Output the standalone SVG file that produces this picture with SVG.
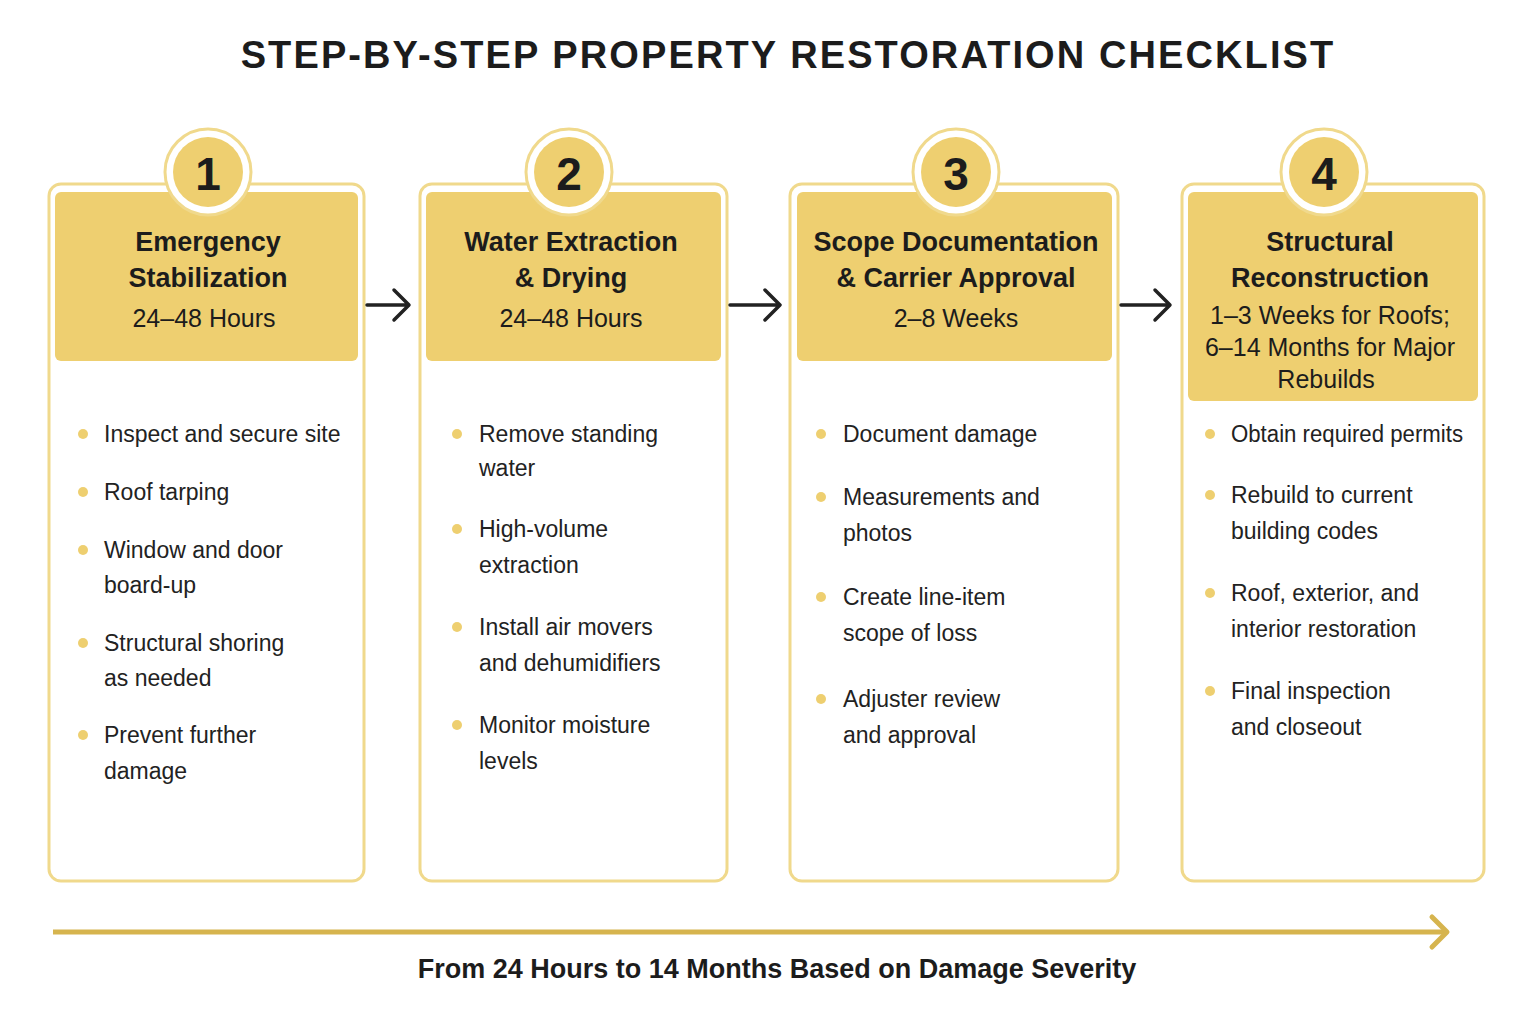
<svg xmlns="http://www.w3.org/2000/svg" width="1534" height="1024" viewBox="0 0 1534 1024">
<style>
.card{fill:#fff;stroke:#F0D98C;stroke-width:3}
.hdr{fill:#EECF70}
.ring{fill:#fff;stroke:#F0D98C;stroke-width:3}
.num{font:bold 46px "Liberation Sans",sans-serif;fill:#1c1c1c;text-anchor:middle}
.h{font:bold 27px "Liberation Sans",sans-serif;fill:#1c1c1c;text-anchor:middle}
.s{font:25px "Liberation Sans",sans-serif;fill:#1c1c1c;text-anchor:middle}
.b{font:23px "Liberation Sans",sans-serif;fill:#222}
.dot{fill:#EECF70}
.conn{stroke:#222;stroke-width:3.5;fill:none;stroke-linecap:round;stroke-linejoin:round}
</style>
<rect width="1534" height="1024" fill="#fff"/>
<text x="788" y="68" style="font:bold 38px 'Liberation Sans',sans-serif;fill:#1c1c1c;letter-spacing:2.1px" text-anchor="middle">STEP-BY-STEP PROPERTY RESTORATION CHECKLIST</text>

<g id="step1">
<rect class="card" x="49" y="184" width="315" height="697" rx="12"/>
<rect class="hdr" x="55" y="192" width="303" height="169" rx="6"/>
<circle class="ring" cx="208" cy="172" r="43"/><circle class="hdr" cx="208" cy="172" r="35"/>
<text class="num" x="208" y="190">1</text>
<text class="h" x="208" y="251">Emergency</text><text class="h" x="208" y="287">Stabilization</text>
<text class="s" x="204" y="327">24–48 Hours</text>
<g class="b">
<circle class="dot" cx="83" cy="434" r="5"/><text x="104" y="442">Inspect and secure site</text>
<circle class="dot" cx="83" cy="492" r="5"/><text x="104" y="500">Roof tarping</text>
<circle class="dot" cx="83" cy="550" r="5"/><text x="104" y="558">Window and door</text><text x="104" y="593">board-up</text>
<circle class="dot" cx="83" cy="643" r="5"/><text x="104" y="651">Structural shoring</text><text x="104" y="686">as needed</text>
<circle class="dot" cx="83" cy="735" r="5"/><text x="104" y="743">Prevent further</text><text x="104" y="779">damage</text>
</g>
</g>

<g id="step2">
<rect class="card" x="420" y="184" width="307" height="697" rx="12"/>
<rect class="hdr" x="426" y="192" width="295" height="169" rx="6"/>
<circle class="ring" cx="569" cy="172" r="43"/><circle class="hdr" cx="569" cy="172" r="35"/>
<text class="num" x="569" y="190">2</text>
<text class="h" x="571" y="251">Water Extraction</text><text class="h" x="571" y="287">&amp; Drying</text>
<text class="s" x="571" y="327">24–48 Hours</text>
<g class="b">
<circle class="dot" cx="457" cy="434" r="5"/><text x="479" y="442">Remove standing</text><text x="479" y="476">water</text>
<circle class="dot" cx="457" cy="529" r="5"/><text x="479" y="537">High-volume</text><text x="479" y="573">extraction</text>
<circle class="dot" cx="457" cy="627" r="5"/><text x="479" y="635">Install air movers</text><text x="479" y="671">and dehumidifiers</text>
<circle class="dot" cx="457" cy="725" r="5"/><text x="479" y="733">Monitor moisture</text><text x="479" y="769">levels</text>
</g>
</g>

<g id="step3">
<rect class="card" x="790" y="184" width="328" height="697" rx="12"/>
<rect class="hdr" x="797" y="192" width="315" height="169" rx="6"/>
<circle class="ring" cx="956" cy="172" r="43"/><circle class="hdr" cx="956" cy="172" r="35"/>
<text class="num" x="956" y="190">3</text>
<text class="h" x="956" y="251">Scope Documentation</text><text class="h" x="956" y="287">&amp; Carrier Approval</text>
<text class="s" x="956" y="327">2–8 Weeks</text>
<g class="b">
<circle class="dot" cx="821" cy="434" r="5"/><text x="843" y="442">Document damage</text>
<circle class="dot" cx="821" cy="497" r="5"/><text x="843" y="505">Measurements and</text><text x="843" y="541">photos</text>
<circle class="dot" cx="821" cy="597" r="5"/><text x="843" y="605">Create line-item</text><text x="843" y="641">scope of loss</text>
<circle class="dot" cx="821" cy="699" r="5"/><text x="843" y="707">Adjuster review</text><text x="843" y="743">and approval</text>
</g>
</g>

<g id="step4">
<rect class="card" x="1182" y="184" width="302" height="697" rx="12"/>
<rect class="hdr" x="1188" y="192" width="290" height="209" rx="6"/>
<circle class="ring" cx="1324" cy="172" r="43"/><circle class="hdr" cx="1324" cy="172" r="35"/>
<text class="num" x="1324" y="190">4</text>
<text class="h" x="1330" y="251">Structural</text><text class="h" x="1330" y="287">Reconstruction</text>
<text class="s" x="1330" y="324">1–3 Weeks for Roofs;</text>
<text class="s" x="1330" y="356">6–14 Months for Major</text>
<text class="s" x="1326" y="388">Rebuilds</text>
<g class="b">
<circle class="dot" cx="1210" cy="434" r="5"/><text x="1231" y="442" textLength="232" lengthAdjust="spacingAndGlyphs">Obtain required permits</text>
<circle class="dot" cx="1210" cy="495" r="5"/><text x="1231" y="503">Rebuild to current</text><text x="1231" y="539">building codes</text>
<circle class="dot" cx="1210" cy="593" r="5"/><text x="1231" y="601">Roof, exterior, and</text><text x="1231" y="637">interior restoration</text>
<circle class="dot" cx="1210" cy="691" r="5"/><text x="1231" y="699">Final inspection</text><text x="1231" y="735">and closeout</text>
</g>
</g>

<g id="connectors">
<path class="conn" d="M367 305H408M394 290L409 305L394 320"/>
<path class="conn" d="M730 305H779M765 290L780 305L765 320"/>
<path class="conn" d="M1121 305H1169M1155 290L1170 305L1155 320"/>
<path d="M53 932H1444" stroke="#D6B44E" stroke-width="5" fill="none"/>
<path d="M1432 917L1447 932L1432 947" stroke="#D6B44E" stroke-width="5" fill="none" stroke-linecap="round" stroke-linejoin="round"/>
</g>
<text x="777" y="978" text-anchor="middle" style="font:bold 27px 'Liberation Sans',sans-serif;fill:#1c1c1c">From 24 Hours to 14 Months Based on Damage Severity</text>
</svg>
